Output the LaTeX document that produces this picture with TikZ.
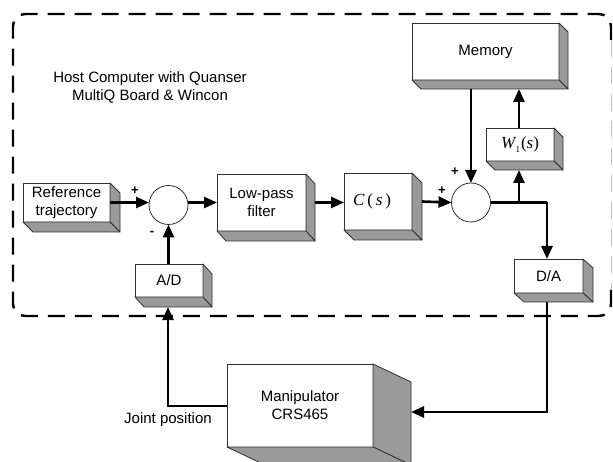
\documentclass[tikz,border=0pt]{standalone}
\usepackage{fontspec}
\setmainfont{Liberation Sans}
\newfontfamily\serifmath{Liberation Serif}
\usetikzlibrary{arrows.meta,calc}
\definecolor{sidegray}{HTML}{9A9A9A}
\definecolor{edgegray}{HTML}{303030}
\tikzset{
  blockface/.style={draw=edgegray, line width=0.8pt, fill=white, inner sep=0pt, outer sep=0pt, align=center},
  mathlabel/.style={font=\fontsize{17}{20}\selectfont\serifmath},
  sumnode/.style={circle, draw=edgegray, line width=0.8pt, fill=white, minimum size=39pt, inner sep=0pt, outer sep=0pt},
  sideface/.style={draw=edgegray, line width=0.8pt, fill=sidegray, line join=round},
  wire/.style={line width=2.6pt},
  flow/.style={wire, -{Triangle[length=13pt,width=11pt]}},
  sign/.style={font=\fontsize{13}{13}\selectfont\bfseries, inner sep=0pt},
  hostborder/.style={line width=2.4pt, dash pattern=on 17pt off 10pt, rounded corners=12pt}
}
\begin{document}
\begin{tikzpicture}[x=1pt, y=-1pt, font=\fontsize{15}{18}\selectfont]
\useasboundingbox (0,0) rectangle (613,462);
\fill[white] (0,0) rectangle (613,462);

% host computer boundary (right edge lighter)
\draw[hostborder] (611,40) -- (611,14) -- (13,14) -- (13,316) -- (611,316) -- (611,290);
\draw[line width=1pt, black!25, dash pattern=on 17pt off 10pt] (611,40) -- (611,290);
\node[align=center] (host) at (150,87.5) {Host Computer with Quanser\\MultiQ Board \& Wincon};

% blocks (front faces)
\node[blockface, minimum width=87pt, minimum height=39pt] (ref) at (66.5,202.5) {Reference\\trajectory};
\node[blockface, minimum width=89pt, minimum height=57pt] (lpf) at (261.5,202.5) {Low-pass\\filter};
\node[blockface, minimum width=68pt, minimum height=33pt] (ad) at (169,280.5) {A/D};
\node[blockface, mathlabel, minimum width=68pt, minimum height=57pt] (cs) at (378,201.5) {\hspace*{-12pt}\textit{C}\,(\,\textit{s}\,)};
\node[blockface, minimum width=147pt, minimum height=57pt] (mem) at (485.5,51.5) {Memory};
\node[blockface, mathlabel, minimum width=68pt, minimum height=33pt] (w1) at (520,144.5) {\textit{W}\kern-1pt\raisebox{-4pt}{\fontsize{9}{9}\selectfont 1}\kern1pt(\textit{s})};
\node[blockface, minimum width=69pt, minimum height=34pt] (da) at (548.5,276) {D/A};
\node[blockface, minimum width=146pt, minimum height=83pt] (man) at (300,405.5) {Manipulator\\CRS465};

% extruded sides of the blocks
\foreach \b/\dx/\dy in {ref/10/10, lpf/9/10, ad/9/10, cs/10/10, mem/9/9, w1/9/9, da/10/9, man/38/18} {
  \draw[sideface] (\b.north east) -- ++(\dx,\dy) -- ($(\b.south east)+(\dx,\dy)$) -- (\b.south east) -- cycle;
  \draw[sideface] (\b.south west) -- ++(\dx,\dy) -- ($(\b.south east)+(\dx,\dy)$) -- (\b.south east) -- cycle;
}

% summing junctions
\node[sumnode] (s1) at (168.5,205) {};
\node[sumnode] (s2) at (471,202.5) {};

% signs
\node[sign] (p1) at (135,191) {+};
\node[sign] (m1) at (152,233) {-};
\node[sign] (p2) at (442,191) {+};
\node[sign] (p3) at (455,172) {+};

% signal flow
\coordinate (jw) at (519,202.5);
\coordinate (jd) at (547,202.5);
\coordinate (dabot) at (547,412);
\coordinate (jp) at (168,406);

\draw[flow] (ref.east |- 0,202.5) -- (s1.west |- 0,202.5);
\draw[flow] (s1.east |- 0,202.5) -- (lpf.west |- 0,202.5);
\draw[flow] ($(lpf.east)+(9,0)$) -- (cs.west |- lpf.east);
\draw[flow] ($(cs.east)+(10,0)$) -- (s2.west);
\draw[flow] ($(s2 |- mem.south)+(0,9)$) -- (s2.north);
\draw[wire] (s2.east) -- (jd);
\draw[flow] (jd) -- (jd |- da.north);
\draw[flow] (jw) -- ($(jw |- w1.south)+(0,9)$);
\draw[flow] (jw |- w1.north) -- ($(jw |- mem.south)+(0,9)$);
\draw[flow] ($(dabot |- da.south)+(0,9)$) -- (dabot) -- ($(man.east |- dabot)+(38,0)$);
\draw[flow] (man.west |- jp) -- (jp) -- ($(jp |- ad.south)+(0,10)$);
\draw[flow] (ad.north -| s1) -- (s1.south);

\node (jplabel) at (168,420) {Joint position};
\end{tikzpicture}
\end{document}
